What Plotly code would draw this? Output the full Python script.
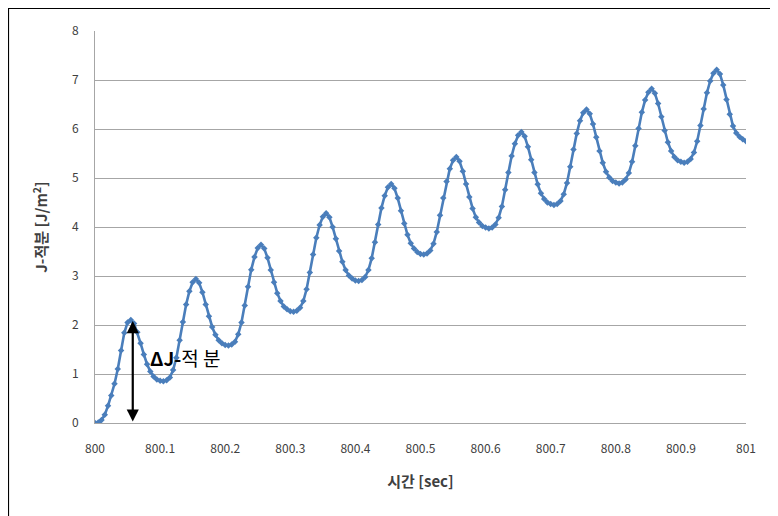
import plotly.graph_objects as go

# J-integral values, sampled every 0.005 s from 800.000 to 801.000 s
j_integral = [
    # initial rise to first peak
    0.00, 0.01, 0.06, 0.17, 0.35, 0.56, 0.80, 1.10, 1.48, 1.84, 2.05, 2.10,
    # cycle 1
    2.03, 1.85, 1.63, 1.40, 1.20, 1.05, 0.95, 0.89, 0.86, 0.85,
    0.87, 0.93, 1.08, 1.33, 1.69, 2.06, 2.42, 2.69, 2.87, 2.94,
    # cycle 2
    2.86, 2.67, 2.42, 2.18, 1.96, 1.80, 1.69, 1.63, 1.59, 1.58,
    1.60, 1.66, 1.81, 2.05, 2.40, 2.78, 3.13, 3.39, 3.57, 3.64,
    # cycle 3
    3.56, 3.37, 3.12, 2.87, 2.65, 2.49, 2.38, 2.32, 2.28, 2.27,
    2.29, 2.35, 2.49, 2.73, 3.07, 3.44, 3.78, 4.04, 4.21, 4.28,
    # cycle 4
    4.20, 4.00, 3.76, 3.51, 3.29, 3.12, 3.01, 2.95, 2.91, 2.90,
    2.92, 2.98, 3.12, 3.36, 3.69, 4.05, 4.39, 4.64, 4.81, 4.88,
    # cycle 5
    4.79, 4.59, 4.33, 4.07, 3.84, 3.67, 3.56, 3.49, 3.45, 3.44,
    3.46, 3.52, 3.66, 3.90, 4.24, 4.59, 4.93, 5.19, 5.36, 5.43,
    # cycle 6
    5.34, 5.14, 4.88, 4.61, 4.38, 4.20, 4.09, 4.02, 3.99, 3.97,
    3.99, 4.05, 4.19, 4.42, 4.76, 5.11, 5.45, 5.70, 5.87, 5.94,
    # cycle 7
    5.85, 5.64, 5.37, 5.11, 4.87, 4.69, 4.57, 4.50, 4.47, 4.45,
    4.47, 4.53, 4.67, 4.90, 5.23, 5.58, 5.91, 6.17, 6.33, 6.40,
    # cycle 8
    6.31, 6.10, 5.83, 5.55, 5.31, 5.13, 5.01, 4.94, 4.91, 4.89,
    4.91, 4.97, 5.10, 5.33, 5.66, 6.01, 6.34, 6.59, 6.75, 6.82,
    # cycle 9
    6.73, 6.52, 6.25, 5.97, 5.73, 5.55, 5.43, 5.36, 5.33, 5.31,
    5.33, 5.39, 5.52, 5.75, 6.07, 6.41, 6.74, 6.98, 7.14, 7.21,
    # tail
    7.12, 6.90, 6.60, 6.30, 6.06, 5.92, 5.84, 5.79, 5.75,
]

t_start = 800.0
t_step = 0.005
times = [round(t_start + t_step * i, 3) for i in range(len(j_integral))]

x_ticks = [800, 800.1, 800.2, 800.3, 800.4, 800.5, 800.6, 800.7, 800.8, 800.9, 801]
x_tick_labels = ["800", "800.1", "800.2", "800.3", "800.4", "800.5",
                 "800.6", "800.7", "800.8", "800.9", "801"]
y_ticks = [0, 1, 2, 3, 4, 5, 6, 7, 8]

# Delta-J annotation (arrow from 0 up to first peak)
delta_x = 800.058
delta_bottom = 0.0
delta_top = 2.08
delta_label_x = 800.082
delta_label_y = 1.33

FONT = "Noto Sans CJK KR, Malgun Gothic, sans-serif"
BLUE = "#4A7EBB"

fig = go.Figure()
fig.add_trace(go.Scatter(
    x=times, y=j_integral, mode="lines+markers",
    line=dict(color=BLUE, width=2.6),
    marker=dict(symbol="diamond", size=5, color=BLUE),
    showlegend=False, hoverinfo="x+y",
))

fig.add_annotation(
    x=delta_x, y=delta_top, ax=delta_x, ay=delta_bottom,
    xref="x", yref="y", axref="x", ayref="y",
    showarrow=True, arrowhead=2, startarrowhead=2, arrowside="end+start",
    arrowsize=1.1, arrowwidth=2.2, arrowcolor="black", text="",
)
fig.add_annotation(
    x=delta_label_x, y=delta_label_y, xref="x", yref="y",
    text="<b>ΔJ-</b>적 분", showarrow=False, xanchor="left", yanchor="middle",
    font=dict(family=FONT, size=19, color="black"),
)

# outer chart frame
fig.add_shape(type="rect", xref="paper", yref="paper",
              x0=-0.1329, x1=1.2, y0=-0.4, y1=1.0574,
              line=dict(color="black", width=1.2), fillcolor="rgba(0,0,0,0)",
              layer="above")

fig.update_layout(
    width=778, height=516,
    margin=dict(l=87, r=40, t=23, b=101),
    paper_bgcolor="white", plot_bgcolor="white",
    font=dict(family=FONT, size=11, color="#404040"),
    xaxis=dict(
        range=[800, 801], tickvals=x_ticks, ticktext=x_tick_labels,
        showgrid=False, zeroline=False,
        showline=True, linecolor="#A6A6A6", linewidth=1,
        ticks="", ticklabelstandoff=15,
        tickfont=dict(size=12, color="#404040"),
        title=dict(text="<b>시간 [sec]</b>", font=dict(size=15, color="#404040"), standoff=21),
    ),
    yaxis=dict(
        range=[0, 8], tickvals=y_ticks,
        showgrid=True, gridcolor="#A6A6A6", gridwidth=1,
        zeroline=False,
        showline=True, linecolor="#A6A6A6", linewidth=1,
        ticks="", ticklabelstandoff=13,
        tickfont=dict(size=12, color="#404040"),
        title=dict(text="<b>J-적분 [J/m<sup>2</sup>]</b>", font=dict(size=15, color="#404040"), standoff=20),
    ),
)

fig.write_html("out.html")
